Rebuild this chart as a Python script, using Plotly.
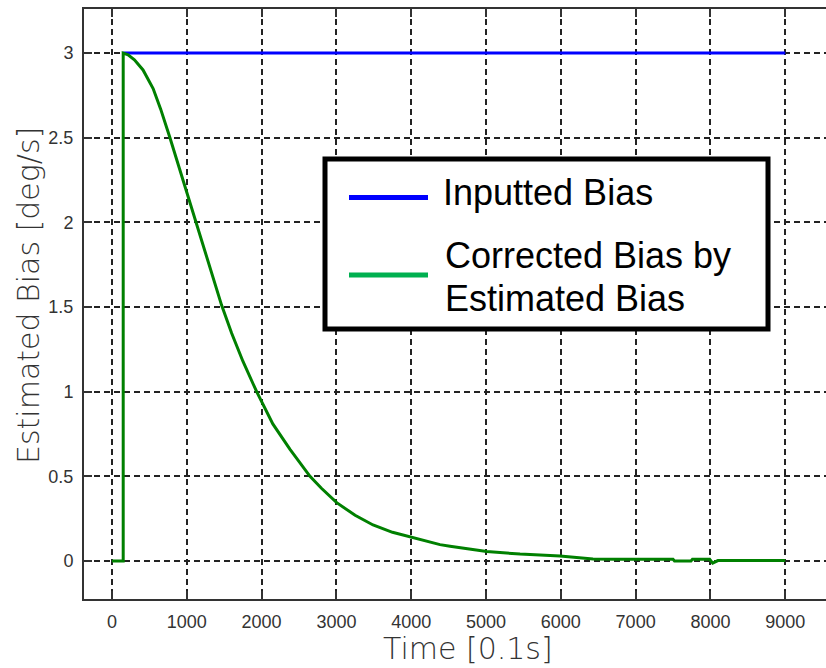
import plotly.graph_objects as go

# ---- data ----
input_t = [150, 9000]
input_bias = [3.0, 3.0]

corr_t = [0, 150, 150, 215, 300, 415, 550, 650, 775, 880, 1000, 1120, 1200, 1300,
          1400, 1466, 1600, 1750, 1934, 2150, 2380, 2647, 2800, 3004, 3250, 3490,
          3750, 3984, 4200, 4385, 4519, 4742, 5009, 5455, 5990, 6430, 6747, 7500,
          7520, 7740, 7760, 7990, 8030, 8100, 9000]
corr_bias = [0.0, 0.0, 3.0, 2.99, 2.96, 2.90, 2.79, 2.67, 2.50, 2.35, 2.17, 2.00, 1.885,
             1.74, 1.60, 1.51, 1.345, 1.18, 1.00, 0.81, 0.66, 0.50, 0.43, 0.345, 0.27,
             0.213, 0.17, 0.142, 0.115, 0.097, 0.088, 0.073, 0.056, 0.041, 0.030, 0.012,
             0.010, 0.010, 0.0, 0.0, 0.010, 0.010, -0.012, 0.003, 0.003]

x_ticks = [0, 1000, 2000, 3000, 4000, 5000, 6000, 7000, 8000, 9000]
y_ticks = [0, 0.5, 1, 1.5, 2, 2.5, 3]
y_tick_text = ["0", "0.5", "1", "1.5", "2", "2.5", "3"]

legend_labels = ["Inputted Bias", "Corrected Bias by", "Estimated Bias"]

# ---- layout geometry ----
W, H = 826, 668
ML, MR, MT, MB = 84, 0, 9, 69
PW, PH = W - ML - MR, H - MT - MB


def px(x):
    return (x - ML) / PW


def py(y):
    return (H - MB - y) / PH


fig = go.Figure()
fig.add_trace(go.Scatter(x=input_t, y=input_bias, mode="lines",
                         line=dict(color="#0000ff", width=3), showlegend=False))
fig.add_trace(go.Scatter(x=corr_t, y=corr_bias, mode="lines",
                         line=dict(color="#008000", width=3), showlegend=False))

tickfont = dict(family="Liberation Sans, Arial, sans-serif", size=18, color="#333333")

fig.update_xaxes(range=[-374, 9545], tickvals=x_ticks, tickformat="d",
                 showline=True, linecolor="#333333", linewidth=2, mirror="allticks",
                 ticks="inside", ticklen=8, tickwidth=2, tickcolor="#333333",
                 showgrid=True, gridcolor="#222222", gridwidth=1.5, griddash="6px,4px",
                 zeroline=False, tickfont=tickfont, ticklabelstandoff=5)
fig.update_yaxes(range=[-0.224, 3.26], tickvals=y_ticks, ticktext=y_tick_text,
                 showline=True, linecolor="#333333", linewidth=2, mirror=False,
                 ticks="inside", ticklen=8, tickwidth=2, tickcolor="#333333",
                 showgrid=True, gridcolor="#222222", gridwidth=1.5, griddash="6px,4px",
                 zeroline=False, tickfont=tickfont, ticklabelstandoff=5)

titlefont = dict(family="DejaVu Sans, sans-serif", size=30, color="#333333", weight=200)
legfont = dict(family="Liberation Sans, Arial, sans-serif", size=36, color="#000000")

shapes = [
    dict(type="rect", xref="paper", yref="paper", x0=px(325), x1=px(768),
         y0=py(329), y1=py(159), line=dict(color="black", width=5),
         fillcolor="white", layer="above"),
    dict(type="line", xref="paper", yref="paper", x0=px(349), x1=px(428),
         y0=py(197.5), y1=py(197.5), line=dict(color="#0000ff", width=5), layer="above"),
    dict(type="line", xref="paper", yref="paper", x0=px(349), x1=px(428),
         y0=py(275), y1=py(275), line=dict(color="#00b050", width=5), layer="above"),
]

annotations = [
    dict(text="Time [0.1s]", xref="paper", yref="paper", x=px(468), y=py(648),
         xanchor="center", yanchor="middle", showarrow=False, font=titlefont),
    dict(text="Estimated Bias [deg/s]", xref="paper", yref="paper", x=px(28), y=py(296),
         xanchor="center", yanchor="middle", showarrow=False, font=titlefont,
         textangle=-90),
    dict(text=legend_labels[0], xref="paper", yref="paper", x=px(441), y=py(193),
         xanchor="left", yanchor="middle", showarrow=False, font=legfont),
    dict(text=legend_labels[1], xref="paper", yref="paper", x=px(443), y=py(256),
         xanchor="left", yanchor="middle", showarrow=False, font=legfont),
    dict(text=legend_labels[2], xref="paper", yref="paper", x=px(443), y=py(298),
         xanchor="left", yanchor="middle", showarrow=False, font=legfont),
]

fig.update_layout(width=W, height=H, margin=dict(l=ML, r=MR, t=MT, b=MB),
                  paper_bgcolor="white", plot_bgcolor="white",
                  shapes=shapes, annotations=annotations, showlegend=False)

fig.write_html("out.html")
